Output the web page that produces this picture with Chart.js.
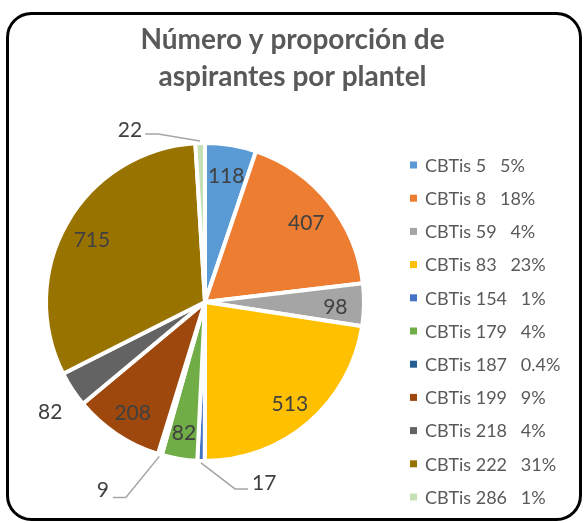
<!DOCTYPE html>
<html><head><meta charset="utf-8">
<script src="https://cdn.jsdelivr.net/npm/chart.js@4"></script>
<style>html,body{margin:0;padding:0;background:#fff}#wrap{position:relative;width:585px;height:523px}</style>
</head><body><div id="wrap"><canvas id="c" width="585" height="523"></canvas></div>
<script>
const categories = ['CBTis 5','CBTis 8','CBTis 59','CBTis 83','CBTis 154','CBTis 179','CBTis 187','CBTis 199','CBTis 218','CBTis 222','CBTis 286'];
const values = [118, 407, 98, 513, 17, 82, 9, 208, 82, 715, 22];
const percentLabels = ['5%','18%','4%','23%','1%','4%','0.4%','9%','4%','31%','1%'];
const titleLines = ['Número y proporción de', 'aspirantes por plantel'];
const colors = ['#5B9BD5','#ED7D31','#A5A5A5','#FFC000','#4472C4','#70AD47','#255E91','#9E480E','#636363','#997300','#C5E0B4'];

const FONT = 'Lato, "Open Sans", sans-serif';
// placement of labels drawn outside the pie (offsets from the slice's outer edge point)
const outsideLabels = {
  4:  {elbow:[34,28],  end:[47,28],  text:[51,22],  align:'left'},
  6:  {elbow:[-34,43], end:[-47,43], text:[-51,36], align:'right'},
  8:  {text:[-22,23], align:'center'},
  10: {elbow:[-42,-9], end:[-55,-9], text:[-58,-13], align:'right'}
};

const decor = {
  id: 'decor',
  beforeDraw(chart) {
    const ctx = chart.ctx;
    ctx.save();
    ctx.fillStyle = '#fff';
    ctx.fillRect(0, 0, chart.width, chart.height);
    ctx.lineWidth = 3;
    ctx.strokeStyle = '#000';
    ctx.beginPath();
    ctx.roundRect(7.5, 13.5, 573, 506, 24);
    ctx.stroke();
    ctx.restore();
  },
  afterDatasetsDraw(chart) {
    const ctx = chart.ctx;
    const meta = chart.getDatasetMeta(0);
    ctx.save();
    ctx.font = '21px ' + FONT;
    ctx.fillStyle = '#404040';
    ctx.textBaseline = 'middle';
    meta.data.forEach((arc, i) => {
      const p = arc.getProps(['x','y','startAngle','endAngle','outerRadius'], true);
      const mid = (p.startAngle + p.endAngle) / 2;
      const txt = String(values[i]);
      const o = outsideLabels[i];
      if (!o) {
        const f = 0.82;
        ctx.textAlign = 'center';
        ctx.fillText(txt, p.x + Math.cos(mid) * p.outerRadius * f, p.y + Math.sin(mid) * p.outerRadius * f + 3);
        return;
      }
      const ex = p.x + Math.cos(mid) * p.outerRadius;
      const ey = p.y + Math.sin(mid) * p.outerRadius;
      if (o.elbow) {
        ctx.strokeStyle = '#A6A6A6';
        ctx.lineWidth = 1.5;
        ctx.beginPath();
        ctx.moveTo(ex + Math.cos(mid) * 2, ey + Math.sin(mid) * 2);
        ctx.lineTo(ex + o.elbow[0], ey + o.elbow[1]);
        ctx.lineTo(ex + o.end[0], ey + o.end[1]);
        ctx.stroke();
      }
      ctx.textAlign = o.align;
      ctx.fillText(txt, ex + o.text[0], ey + o.text[1]);
    });
    ctx.restore();
  },
  afterDraw(chart) {
    const ctx = chart.ctx;
    ctx.save();
    ctx.fillStyle = '#595959';
    ctx.font = 'bold 28px ' + FONT;
    ctx.textAlign = 'center';
    ctx.textBaseline = 'middle';
    ctx.fillText(titleLines[0], 292.5, 40);
    ctx.fillText(titleLines[1], 292.5, 77);
    ctx.font = '18px ' + FONT;
    ctx.textAlign = 'left';
    categories.forEach((c, i) => {
      const y = 165 + i * 33.2;
      ctx.fillStyle = colors[i];
      ctx.fillRect(410, y - 3.5, 7, 7);
      ctx.fillStyle = '#595959';
      ctx.fillText(c + '   ' + percentLabels[i], 425, y + 1);
    });
    ctx.restore();
  }
};

new Chart(document.getElementById('c'), {
  type: 'pie',
  data: {
    labels: categories,
    datasets: [{
      data: values,
      backgroundColor: colors,
      borderColor: '#fff',
      borderWidth: 4,
      radius: 159
    }]
  },
  options: {
    responsive: false,
    animation: false,
    layout: { padding: { left: 0, right: 175, top: 142, bottom: 61 } },
    plugins: { legend: { display: false }, title: { display: false }, tooltip: { enabled: false } }
  },
  plugins: [decor]
});
</script>
</body></html>
